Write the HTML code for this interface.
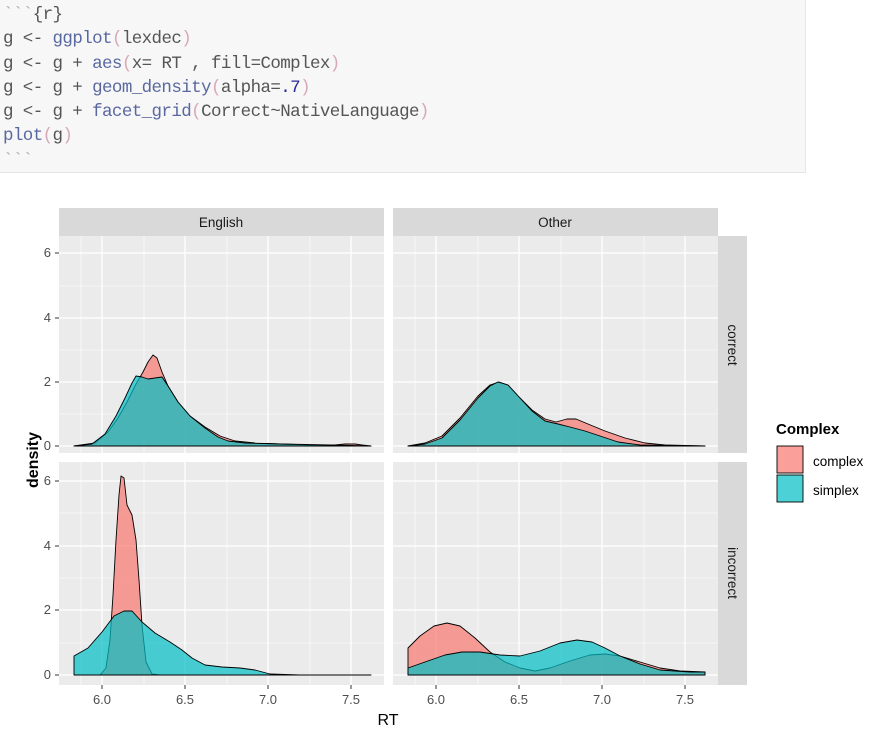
<!DOCTYPE html>
<html><head><meta charset="utf-8"><style>
body{margin:0;background:#fff;width:882px;height:736px;overflow:hidden;position:relative}
.code{position:absolute;left:0;top:0;width:805px;height:172px;background:#f7f7f7;border-bottom:1px solid #e4e4e4;border-right:1px solid #e8e8e8}
.code pre{margin:0;padding:3px 0 0 3px;font-family:"Liberation Mono","Noto Sans CJK JP",monospace;font-size:17.5px;line-height:24.3px;color:#555;letter-spacing:-0.6px}
.f{color:#5a68a0}.p{color:#d8a8b8}.n{color:#2a2a9a}.g{color:#aaa}
</style></head><body>
<div class="code"><pre><span class="g">&#96;&#96;&#96;</span>{r}
g &lt;- <span class="f">ggplot</span><span class="p">(</span>lexdec<span class="p">)</span>
g &lt;- g + <span class="f">aes</span><span class="p">(</span>x= RT , fill=Complex<span class="p">)</span>
g &lt;- g + <span class="f">geom_density</span><span class="p">(</span>alpha=<span class="n">.7</span><span class="p">)</span>
g &lt;- g + <span class="f">facet_grid</span><span class="p">(</span>Correct~NativeLanguage<span class="p">)</span>
<span class="f">plot</span><span class="p">(</span>g<span class="p">)</span>
<span class="g">&#96;&#96;&#96;</span></pre></div>
<svg width="882" height="736" style="position:absolute;left:0;top:0" font-family="Liberation Sans, sans-serif">
<g>
<rect x="59" y="236" width="325" height="217" fill="#ebebeb"/>
<rect x="393" y="236" width="325" height="217" fill="#ebebeb"/>
<rect x="59" y="462" width="325" height="223" fill="#ebebeb"/>
<rect x="393" y="462" width="325" height="223" fill="#ebebeb"/>
<rect x="59" y="208" width="325" height="28" fill="#d9d9d9"/>
<rect x="393" y="208" width="325" height="28" fill="#d9d9d9"/>
<rect x="718" y="236" width="29" height="217" fill="#d9d9d9"/>
<rect x="718" y="462" width="29" height="223" fill="#d9d9d9"/>
<text x="221" y="227" font-size="13.5" fill="#1a1a1a" text-anchor="middle">English</text>
<text x="555" y="227" font-size="13.5" fill="#1a1a1a" text-anchor="middle">Other</text>
<text transform="translate(728,345) rotate(90)" font-size="13.5" fill="#1a1a1a" text-anchor="middle">correct</text>
<text transform="translate(728,573) rotate(90)" font-size="13.5" fill="#1a1a1a" text-anchor="middle">incorrect</text>
</g>
<g stroke="#fff" stroke-width="0.6">
<path d="M59 414H384M59 350H384M59 286H384M393 414H718M393 350H718M393 286H718"/>
<path d="M59 643H384M59 578H384M59 513H384M393 643H718M393 578H718M393 513H718"/>
<path d="M81 236V453M144 236V453M227 236V453M310 236V453M415 236V453M478 236V453M561 236V453M644 236V453"/>
<path d="M81 462V685M144 462V685M227 462V685M310 462V685M415 462V685M478 462V685M561 462V685M644 462V685"/>
</g>
<g stroke="#fff" stroke-width="1.3">
<path d="M59 446H384M59 382H384M59 318H384M59 253H384M393 446H718M393 382H718M393 318H718M393 253H718"/>
<path d="M59 675H384M59 610H384M59 546H384M59 481H384M393 675H718M393 610H718M393 546H718M393 481H718"/>
<path d="M102 236V453M185 236V453M268 236V453M351 236V453M436 236V453M519 236V453M602 236V453M685 236V453"/>
<path d="M102 462V685M185 462V685M268 462V685M351 462V685M436 462V685M519 462V685M602 462V685M685 462V685"/>
</g>
<g stroke="#000" stroke-width="0.9" stroke-linejoin="round">
<path fill="#F8766D" fill-opacity="0.7" d="M74 446 L95 443 L108 432 L118 418 L127 402 L136 384 L143 372 L148 362 L153 355 L157 358 L162 372 L168 386 L178 402 L190 416 L205 427 L220 436 L235 441 L255 443 L280 444 L310 445 L335 445 L345 444 L355 444 L362 445 L371 446 Z"/>
<path fill="#00BFC4" fill-opacity="0.7" d="M74 446 L92 444 L105 434 L116 416 L125 398 L132 383 L136 376 L142 377 L148 379 L155 378 L162 377 L168 386 L178 402 L190 416 L205 428 L218 437 L228 441 L245 443 L280 444 L330 445 L371 446 Z"/>
<path fill="#F8766D" fill-opacity="0.7" d="M408 446 L425 443 L442 436 L460 418 L478 396 L490 385 L499 382 L508 385 L520 398 L532 410 L545 419 L556 422 L567 419 L576 419 L588 424 L605 431 L625 438 L645 443 L665 445 L705 446 Z"/>
<path fill="#00BFC4" fill-opacity="0.7" d="M408 446 L425 444 L442 438 L460 420 L478 398 L490 386 L498 382 L508 385 L520 398 L532 411 L545 421 L558 424 L570 427 L585 431 L600 436 L618 442 L640 445 L705 446 Z"/>
<path fill="#F8766D" fill-opacity="0.7" d="M100 675 L106 668 L110 640 L113 595 L116 540 L119 495 L121 476 L124 478 L127 505 L132 515 L136 540 L139 580 L142 625 L146 662 L152 674 L160 675 Z"/>
<path fill="#00BFC4" fill-opacity="0.7" d="M74 675 L74 656 L88 648 L102 632 L114 616 L124 611 L132 611 L142 622 L155 633 L170 642 L182 650 L192 658 L205 665 L222 667 L240 668 L255 670 L270 674 L300 675 L371 675 Z"/>
<path fill="#F8766D" fill-opacity="0.7" d="M408 675 L408 648 L420 636 L434 626 L447 623 L460 626 L475 638 L490 652 L505 662 L520 668 L535 671 L550 668 L570 661 L590 655 L605 654 L620 656 L640 662 L660 668 L680 671 L705 672 L705 675 Z"/>
<path fill="#00BFC4" fill-opacity="0.7" d="M408 675 L408 668 L425 662 L445 655 L462 652 L480 652 L500 655 L520 656 L540 651 L560 643 L577 640 L592 642 L605 648 L620 656 L640 664 L660 670 L690 672 L705 672 L705 675 Z"/>
</g>
<g font-size="13" fill="#4d4d4d" text-anchor="end">
<text x="51" y="450">0</text><text x="51" y="386">2</text><text x="51" y="322">4</text><text x="51" y="257">6</text>
<text x="51" y="679">0</text><text x="51" y="614">2</text><text x="51" y="550">4</text><text x="51" y="485">6</text>
</g>
<g stroke="#333" stroke-width="1">
<path d="M55 446H59M55 382H59M55 318H59M55 253H59M55 675H59M55 610H59M55 546H59M55 481H59"/>
<path d="M102 685V689M185 685V689M268 685V689M351 685V689M436 685V689M519 685V689M602 685V689M685 685V689"/>
</g>
<g font-size="13" fill="#4d4d4d" text-anchor="middle">
<text x="102" y="704">6.0</text><text x="185" y="704">6.5</text><text x="268" y="704">7.0</text><text x="351" y="704">7.5</text>
<text x="436" y="704">6.0</text><text x="519" y="704">6.5</text><text x="602" y="704">7.0</text><text x="685" y="704">7.5</text>
</g>
<text x="388" y="725" font-size="16" text-anchor="middle" fill="#000">RT</text>
<text transform="translate(38,460) rotate(-90)" font-size="16" font-weight="bold" text-anchor="middle" fill="#000">density</text>
<text x="776" y="434" font-size="15" font-weight="bold" fill="#000">Complex</text>
<rect x="777" y="446" width="26" height="27" fill="#F8766D" fill-opacity="0.7" stroke="#000" stroke-width="0.9"/>
<rect x="777" y="475" width="26" height="27" fill="#00BFC4" fill-opacity="0.7" stroke="#000" stroke-width="0.9"/>
<text x="813" y="466" font-size="13.5" fill="#000">complex</text>
<text x="813" y="495" font-size="13.5" fill="#000">simplex</text>
</svg>
</body></html>
